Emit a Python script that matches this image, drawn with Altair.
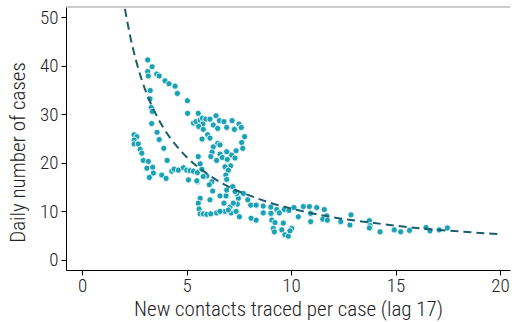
import altair as alt
import pandas as pd

# Daily cases against new contacts traced per case (lag 17)
contacts = [
    3.14, 3.35, 3.14, 3.17, 3.57, 3.69, 3.97, 4.16, 4.45, 4.56, 5.04, 5.05, 3.26, 3.25, 3.31, 3.36, 3.33, 3.59, 3.69, 3.91, 4.07,
    2.49, 2.62, 2.49, 2.49, 2.69, 2.78, 2.86, 2.93, 3.17, 3.10, 3.38, 3.41, 3.22, 3.81, 4.02, 4.29, 4.40, 4.61, 4.85, 5.01, 5.17,
    5.33, 5.52, 5.73, 5.97, 5.09, 5.52, 6.21, 6.09,
    5.56, 5.33, 5.45, 5.65, 5.76, 5.92, 6.12, 6.41, 6.57, 6.79, 7.18, 7.51, 7.62, 6.28, 5.78, 5.58, 5.80, 6.01, 5.74, 6.12, 6.49,
    6.92, 7.29, 7.78, 7.64, 7.69, 7.37, 7.16, 6.92, 6.49, 6.60, 6.28, 6.22, 6.16, 6.60, 6.71, 6.95, 7.32, 7.11, 6.89, 6.44, 5.56,
    5.65, 6.84, 7.00, 6.88, 6.92, 7.21,
    5.65, 5.56, 5.60, 5.65, 5.80, 5.97, 6.16, 6.44, 6.25, 6.60, 6.89, 6.79, 7.08, 6.84, 7.13, 7.48, 7.53, 7.43, 7.93, 8.07, 8.33,
    8.09, 8.33, 8.67, 8.67, 9.03, 9.32, 7.72, 7.40, 6.12, 7.37, 9.44, 9.68, 9.90, 10.14, 10.35, 10.59, 10.88, 10.94, 11.23, 11.59,
    11.71, 11.52, 11.74, 10.94, 12.38, 12.87, 12.82, 13.75, 13.78, 13.75, 14.26, 14.94, 15.25, 15.67, 16.46, 16.65, 17.09, 17.48,
    9.08, 9.23, 9.15, 9.63, 9.56, 9.20, 9.71, 9.87, 10.03, 9.95,
    5.49, 5.80, 6.92, 7.32, 7.24, 7.00, 6.60, 9.04,
]
cases = [
    41.2, 39.8, 38.8, 37.9, 38.3, 37.9, 36.9, 36.3, 35.8, 34.3, 32.8, 30.2, 34.9, 33.2, 31.4, 30.6, 28.1, 26.3, 24.8, 23.0, 20.5,
    25.8, 25.4, 24.7, 23.9, 23.9, 22.8, 22.0, 20.5, 20.3, 18.9, 19.1, 17.9, 17.0, 17.5, 16.8, 18.3, 18.7, 18.5, 19.0, 18.5, 18.4,
    18.3, 18.0, 18.7, 17.3, 16.5, 16.1, 16.1, 15.5,
    30.2, 28.2, 28.5, 28.8, 29.2, 29.0, 29.0, 29.7, 28.7, 28.5, 28.7, 28.0, 27.3, 27.8, 28.0, 27.5, 26.9, 25.8, 24.9, 25.1, 27.1,
    27.3, 26.9, 25.4, 24.2, 23.0, 22.5, 21.6, 22.3, 24.0, 23.7, 23.3, 22.2, 21.3, 21.8, 21.1, 20.7, 21.0, 19.4, 18.9, 20.5, 21.3,
    19.8, 19.2, 18.5, 17.5, 16.6, 15.1,
    12.7, 11.7, 10.5, 9.5, 9.5, 9.4, 9.5, 9.7, 14.2, 13.2, 13.2, 11.7, 10.9, 10.0, 9.7, 12.7, 8.9, 11.5, 12.4, 11.3, 11.3,
    8.6, 8.2, 11.1, 9.7, 10.9, 10.4, 13.7, 13.7, 12.4, 10.0, 9.7, 10.4, 10.2, 10.8, 8.9, 11.0, 11.0, 9.6, 10.8, 10.4,
    9.1, 8.4, 8.2, 7.9, 7.9, 9.3, 7.2, 8.1, 7.1, 6.6, 5.8, 6.2, 5.8, 6.1, 6.7, 6.0, 6.2, 6.6,
    8.2, 7.7, 6.5, 7.6, 6.2, 5.8, 5.2, 4.9, 6.5, 6.0,
    16.3, 17.2, 14.4, 14.1, 11.7, 10.3, 10.0, 9.6,
]

# Fitted inverse curve
fit_x = [2.05, 2.3, 2.6, 3.0, 3.5, 4.0, 4.5, 5.0, 6.0, 7.0, 8.0, 9.0, 10.0, 12.0, 14.0, 16.0, 18.0, 20.0]
fit_y = [51.7, 46.1, 40.8, 35.3, 30.3, 26.5, 23.6, 21.2, 17.7, 15.1, 13.3, 11.8, 10.6, 8.8, 7.6, 6.6, 5.9, 5.3]

X_DOMAIN = [-0.77, 20.48]
Y_DOMAIN = [-2.06, 52.1]

points_df = pd.DataFrame({"contacts": contacts, "cases": cases})
fit_df = pd.DataFrame({"contacts": fit_x, "cases": fit_y})

FONT = "Roboto Condensed, Liberation Sans Narrow, DejaVu Sans Condensed, sans-serif"

x_enc = alt.X(
    "contacts:Q",
    scale=alt.Scale(domain=X_DOMAIN, nice=False, zero=False),
    axis=alt.Axis(values=[0, 5, 10, 15, 20], title="New contacts traced per case (lag 17)"),
)
y_enc = alt.Y(
    "cases:Q",
    scale=alt.Scale(domain=Y_DOMAIN, nice=False, zero=False),
    axis=alt.Axis(values=[0, 10, 20, 30, 40, 50], title="Daily number of cases", titleY=145),
)

dots = alt.Chart(points_df).mark_circle(
    color="#1AA2B4", opacity=1, size=38, stroke="white", strokeWidth=0.8
).encode(x=x_enc, y=y_enc)

fit = alt.Chart(fit_df).mark_line(
    color="#1B5E6B", strokeWidth=2, strokeDash=[8, 5], interpolate="monotone", clip=True
).encode(x="contacts:Q", y="cases:Q")

top_edge = alt.Chart(pd.DataFrame({"v": [0]})).mark_rule(color="#999999", strokeWidth=1).encode(
    x=alt.value(0), x2=alt.value(444), y=alt.value(0)
)

chart = (
    alt.layer(dots, fit, top_edge)
    .properties(
        width=444,
        height=263,
        padding={"left": 66, "top": 7, "right": 2, "bottom": 52},
        autosize="none",
    )
    .configure_view(stroke=None)
    .configure_axis(
        domainColor="black",
        domainWidth=1,
        tickColor="black",
        tickSize=5,
        grid=False,
        labelFont=FONT,
        titleFont=FONT,
        labelFontSize=19,
        titleFontSize=21,
        labelFontWeight=300,
        titleFontWeight=300,
        labelColor="#222222",
        titleColor="#222222",
    )
    .configure_axisY(labelPadding=3, titlePadding=11)
    .configure_axisX(labelPadding=1, titlePadding=3)
)

chart.save("out.html", embed_options={"renderer": "svg", "actions": False})
